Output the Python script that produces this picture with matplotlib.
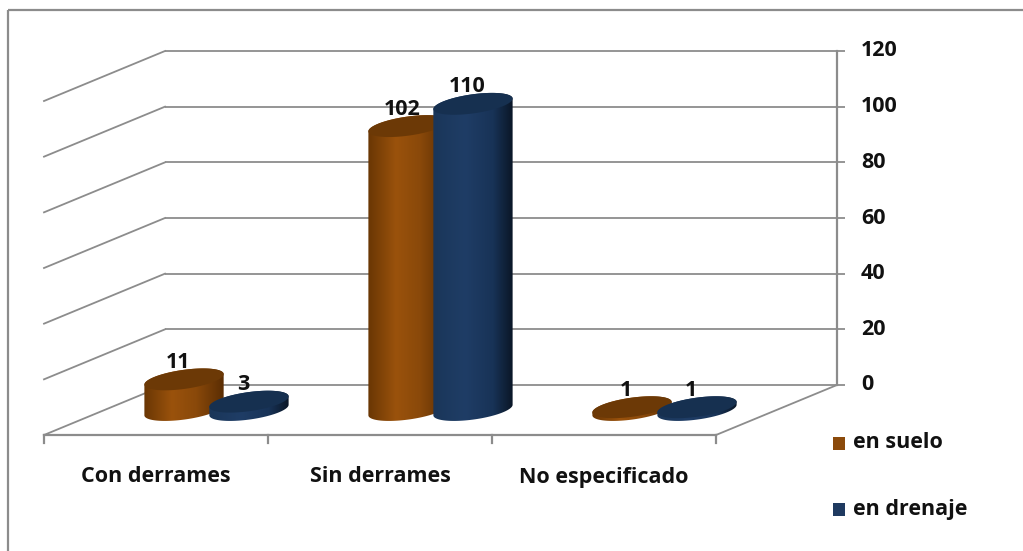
import numpy as np
import matplotlib
matplotlib.use('Agg')
import matplotlib.pyplot as plt
from matplotlib.patches import Polygon, Rectangle
from matplotlib.colors import LinearSegmentedColormap

# ---------------- data ----------------
categories = ['Con derrames', 'Sin derrames', 'No especificado']
series_names = ['en suelo', 'en drenaje']
en_suelo = [11, 102, 1]
en_drenaje = [3, 110, 1]
y_ticks = [0, 20, 40, 60, 80, 100, 120]

# ---------------- style ----------------
FONT = ['Open Sans', 'DejaVu Sans']
plt.rcParams['font.family'] = FONT
FS = 15.5
WEIGHT = 'bold'
TXT = '#111111'
GRID = '#8c8c8c'
ORANGE = '#8b4a0b'
BLUE = '#1f3a60'
body_cmaps = [
    LinearSegmentedColormap.from_list('o', [(0, '#693604'), (0.35, '#9a520c'),
                                            (0.65, '#8a490a'), (1, '#5a2d03')]),
    LinearSegmentedColormap.from_list('b', [(0, '#1a3659'), (0.4, '#1f3d66'),
                                            (0.75, '#183357'), (1, '#0a1626')]),
]
top_colors = ['#6c3906', '#163050']

W, H = 1023, 551
fig = plt.figure(figsize=(W / 100, H / 100), dpi=100)
ax = fig.add_axes([0, 0, 1, 1])

# layout in pixel units
X0, Y0 = 44, 435          # front-left floor corner
CW = 224                  # width of a category slot
DX, DY = 121, -50         # depth offset (front -> back wall)
WALL_H = 334              # height of the back wall for y_ticks[-1]
VMAX = y_ticks[-1]
VS = WALL_H / VMAX
NC = len(categories)


def proj(c, v, d):
    return X0 + c * CW + d * DX, Y0 - v * VS + d * DY


# border
ax.add_patch(Rectangle((8, 10), 1100, 600, fill=False, edgecolor=GRID, lw=1.6, zorder=1))

# back wall gridlines + left wall lines
for v in y_ticks:
    xa, ya = proj(0, v, 1)
    xb, yb = proj(NC, v, 1)
    ax.plot([xa, xb + 8], [ya, yb], color=GRID, lw=1.3, zorder=1, solid_capstyle='butt')
    xc, yc = proj(0, v, 0)
    ax.plot([xc, xa], [yc, ya], color=GRID, lw=1.3, zorder=1)
    ax.text(xb + 24, yb, str(v), ha='left', va='center', fontsize=FS, weight=WEIGHT, color=TXT)

# right axis line
xa, ya = proj(NC, 0, 1)
xb, yb = proj(NC, VMAX, 1)
ax.plot([xa, xb], [ya, yb], color=GRID, lw=1.6, zorder=1)
# floor front edge and right edge
xa, ya = proj(0, 0, 0)
xb, yb = proj(NC, 0, 0)
ax.plot([xa, xb], [ya, yb], color=GRID, lw=1.6, zorder=1)
xc, yc = proj(NC, 0, 1)
ax.plot([xb, xc], [yb, yc], color=GRID, lw=1.3, zorder=1)
# category ticks
for c in range(NC + 1):
    x, y = proj(c, 0, 0)
    ax.plot([x, x], [y, y + 8], color=GRID, lw=1.6, zorder=1)
# category labels
for i, cat in enumerate(categories):
    x, y = proj(i + 0.5, 0, 0)
    ax.text(x, y + 42, cat, ha='center', va='center', fontsize=FS, weight=WEIGHT, color=TXT)

# ---------------- cylinders ----------------
R = 40.0
RY = 9.5
ANG = np.deg2rad(-8)
ca, sa = np.cos(ANG), np.sin(ANG)


def ell(cx, cy, t):
    return (cx + R * np.cos(t) * ca - RY * np.sin(t) * sa,
            cy + R * np.cos(t) * sa + RY * np.sin(t) * ca)


def cylinder(cx, yb, yt, k, z):
    t1 = np.arctan(-RY * sa / (R * ca))
    tf = np.linspace(t1, t1 + np.pi, 80)
    tb = np.linspace(t1 + np.pi, t1 + 2 * np.pi, 80)
    bx, by = ell(cx, yb, tf)
    tx, ty = ell(cx, yt, tb)
    pts = np.column_stack([np.concatenate([bx, tx]), np.concatenate([by, ty])])
    body = Polygon(pts, closed=True, facecolor='none', edgecolor='none', zorder=z)
    ax.add_patch(body)
    grad = np.linspace(0, 1, 256).reshape(1, -1)
    x0, x1 = pts[:, 0].min(), pts[:, 0].max()
    y0, y1 = pts[:, 1].min(), pts[:, 1].max()
    im = ax.imshow(grad, extent=[x0, x1, y1, y0], cmap=body_cmaps[k], aspect='auto',
                   zorder=z, interpolation='bilinear')
    im.set_clip_path(body)
    t = np.linspace(0, 2 * np.pi, 160)
    ex, ey = ell(cx, yt, t)
    ax.add_patch(Polygon(np.column_stack([ex, ey]), closed=True, facecolor=top_colors[k],
                         edgecolor='none', zorder=z + 0.1))


OFF = 0.145
z = 5
for i in range(NC):
    for k, vals in enumerate([en_suelo, en_drenaje]):
        v = vals[i]
        cx, yb = proj(i + 0.5 + (2 * k - 1) * OFF, 0, 0.5)
        _, yt = proj(i + 0.5 + (2 * k - 1) * OFF, v, 0.5)
        cylinder(cx, yb, yt, k, z)
        z += 1
        ax.text(cx - 6, yt - 17, str(v), ha='center', va='center', fontsize=FS,
                weight=WEIGHT, color=TXT, zorder=20)

# ---------------- legend ----------------
for k, (name, col) in enumerate(zip(series_names, [ORANGE, BLUE])):
    ly = 443 + k * 66
    ax.add_patch(Rectangle((833, ly - 6.5), 12, 13, facecolor=col, edgecolor='none', zorder=2))
    ax.text(853, ly, name, ha='left', va='center', fontsize=FS, weight=WEIGHT, color=TXT)

ax.set_xlim(0, W)
ax.set_ylim(H, 0)
ax.axis('off')
fig.savefig('out.png', dpi=100)
